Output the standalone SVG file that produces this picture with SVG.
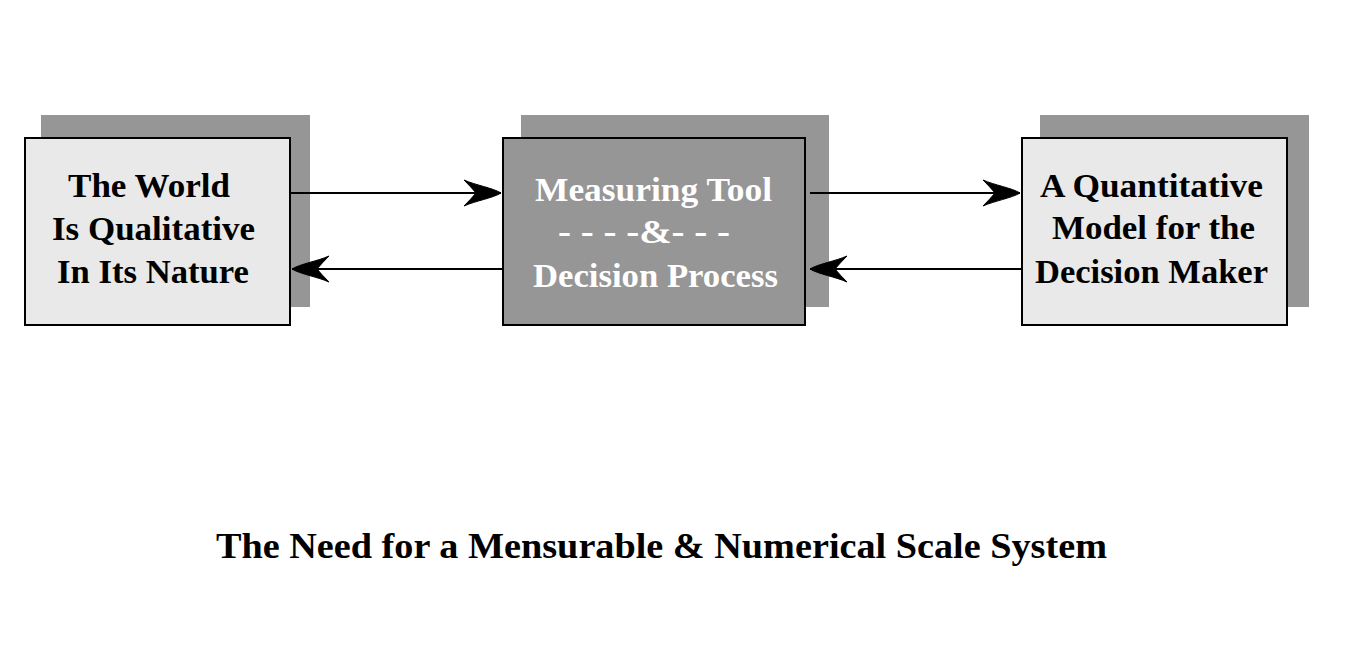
<svg xmlns="http://www.w3.org/2000/svg" width="1350" height="665" viewBox="0 0 1350 665">
<style>
.shadow{fill:#969696;}
.box{stroke:#000;stroke-width:2;}
.light{fill:#e9e9e9;}
.dark{fill:#969696;}
.lbl{font-family:"Liberation Serif","Times New Roman",serif;font-weight:bold;font-size:34px;}
.blk{fill:#000;}
.wht{fill:#fff;}
.conn{stroke:#000;stroke-width:2;fill:none;}
.title{font-family:"Liberation Serif","Times New Roman",serif;font-weight:bold;font-size:36px;fill:#000;}
</style>
<defs>
<marker id="ah" markerUnits="userSpaceOnUse" markerWidth="42" markerHeight="30" viewBox="-39 -15 42 30" refX="0" refY="0" orient="auto">
<path d="M0,0 C-8,-5 -26,-8 -37,-13 Q-30,-6 -25,0 Q-30,6 -37,13 C-26,8 -8,5 0,0 Z" fill="#000" stroke="#000" stroke-width="1"/>
</marker>
</defs>
<rect width="1350" height="665" fill="#fff"/>
<g id="node-world">
<rect class="shadow" x="41" y="115" width="269" height="192"/>
<rect class="box light" x="25" y="138" width="265" height="187"/>
<text class="lbl blk" x="149" y="197" text-anchor="middle" textLength="162" lengthAdjust="spacingAndGlyphs">The World</text>
<text class="lbl blk" x="153.5" y="240" text-anchor="middle" textLength="203" lengthAdjust="spacingAndGlyphs">Is Qualitative</text>
<text class="lbl blk" x="153" y="283" text-anchor="middle" textLength="192" lengthAdjust="spacingAndGlyphs">In Its Nature</text>
</g>
<g id="node-tool">
<rect class="shadow" x="521" y="115" width="308" height="192"/>
<rect class="box dark" x="503" y="138" width="302" height="187"/>
<text class="lbl wht" x="653.5" y="201" text-anchor="middle" textLength="237" lengthAdjust="spacingAndGlyphs">Measuring Tool</text>
<text class="lbl wht" x="644" y="243" text-anchor="middle" textLength="172" lengthAdjust="spacingAndGlyphs">- - - -&amp;- - -</text>
<text class="lbl wht" x="655.5" y="287" text-anchor="middle" textLength="245" lengthAdjust="spacingAndGlyphs">Decision Process</text>
</g>
<g id="node-model">
<rect class="shadow" x="1040" y="115" width="269" height="192"/>
<rect class="box light" x="1022" y="138" width="265" height="187"/>
<text class="lbl blk" x="1151.5" y="197" text-anchor="middle" textLength="223" lengthAdjust="spacingAndGlyphs">A Quantitative</text>
<text class="lbl blk" x="1153.5" y="239" text-anchor="middle" textLength="203" lengthAdjust="spacingAndGlyphs">Model for the</text>
<text class="lbl blk" x="1151.5" y="283" text-anchor="middle" textLength="233" lengthAdjust="spacingAndGlyphs">Decision Maker</text>
</g>
<g id="connectors">
<line class="conn" x1="290" y1="193" x2="501" y2="193" marker-end="url(#ah)"/>
<line class="conn" x1="503" y1="269" x2="292" y2="269" marker-end="url(#ah)"/>
<line class="conn" x1="810" y1="193" x2="1020" y2="193" marker-end="url(#ah)"/>
<line class="conn" x1="1022" y1="269" x2="810" y2="269" marker-end="url(#ah)"/>
</g>
<text id="title" class="title" x="216" y="558" textLength="891" lengthAdjust="spacingAndGlyphs">The Need for a Mensurable &amp; Numerical Scale System</text>
</svg>
